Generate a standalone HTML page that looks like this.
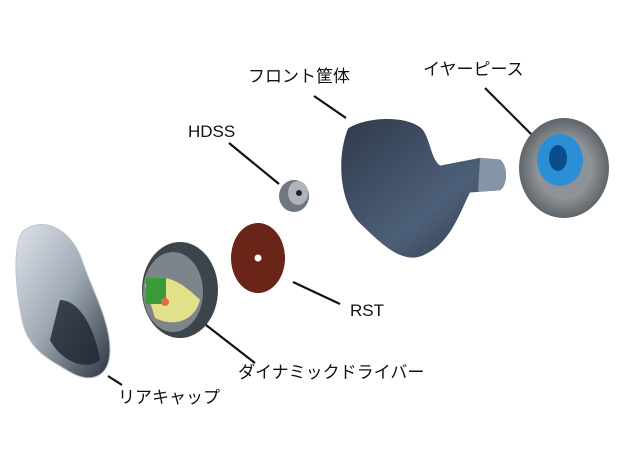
<!DOCTYPE html>
<html><head><meta charset="utf-8"><style>
html,body{margin:0;padding:0;background:#fff;}
svg{display:block}
text{font-family:"Liberation Sans","Noto Sans CJK JP",sans-serif;font-size:17px;fill:#111}
</style></head><body>
<svg width="620" height="466" viewBox="0 0 620 466" xmlns="http://www.w3.org/2000/svg">
<defs>
<linearGradient id="rc" x1="0" y1="0" x2="1" y2="1"><stop offset="0" stop-color="#dfe3ea"/><stop offset="0.5" stop-color="#9ea8b4"/><stop offset="1" stop-color="#2c3440"/></linearGradient>
<linearGradient id="sh" x1="0" y1="0" x2="1" y2="1"><stop offset="0" stop-color="#2f3a4c"/><stop offset="0.6" stop-color="#4d5f78"/><stop offset="1" stop-color="#2a3444"/></linearGradient>
<radialGradient id="et" cx="0.5" cy="0.5" r="0.5"><stop offset="0.6" stop-color="#8e9398"/><stop offset="1" stop-color="#5f6469"/></radialGradient>
</defs>
<!-- rear cap -->
<path d="M22,232 C40,216 70,226 82,260 C92,290 110,320 110,350 C110,378 90,384 70,372 C50,360 28,350 22,320 C16,290 12,250 22,232Z" fill="url(#rc)" stroke="#bfc6cf"/>
<path d="M60,300 C80,300 95,330 100,360 C85,372 60,360 50,340Z" fill="#1e252f" opacity="0.8"/>
<!-- driver -->
<ellipse cx="180" cy="290" rx="38" ry="48" fill="#3c444c"/>
<ellipse cx="173" cy="292" rx="30" ry="40" fill="#7d858a"/>
<path d="M145,285 C160,270 180,280 200,300 C195,320 175,328 155,318Z" fill="#e3e08a"/>
<rect x="146" y="278" width="20" height="26" fill="#3a9a3a"/>
<circle cx="165" cy="302" r="4" fill="#e86a4a"/>
<!-- RST -->
<ellipse cx="258" cy="258" rx="27" ry="35" fill="#6b2418"/>
<circle cx="258" cy="258" r="3.5" fill="#fff"/>
<!-- HDSS -->
<ellipse cx="294" cy="196" rx="15" ry="16" fill="#6f7880"/>
<ellipse cx="298" cy="193" rx="10" ry="12" fill="#aeb4ba"/>
<circle cx="299" cy="193" r="3" fill="#222"/>
<!-- front shell -->
<g transform="translate(0,27) scale(1,0.77)">
<path d="M348,132 C360,120 400,112 420,130 C430,140 430,170 440,180 L480,170 L500,172 C508,180 508,205 500,212 L470,215 C460,240 450,285 420,298 C400,306 380,280 360,255 C340,230 336,170 348,132Z" fill="url(#sh)"/>
<path d="M480,170 L500,172 C508,180 508,205 500,212 L478,214Z" fill="#8595a6"/>
</g>
<!-- eartip -->
<ellipse cx="564" cy="168" rx="45" ry="50" fill="url(#et)"/>
<ellipse cx="560" cy="160" rx="23" ry="26" fill="#2c8fd6"/>
<ellipse cx="558" cy="158" rx="9" ry="13" fill="#0b4d8a"/>
<!-- lines -->
<g stroke="#111" stroke-width="2.2">
<line x1="314" y1="96" x2="346" y2="118"/>
<line x1="485" y1="88" x2="531" y2="134"/>
<line x1="229" y1="143" x2="279" y2="184"/>
<line x1="293" y1="282" x2="340" y2="304"/>
<line x1="206" y1="325" x2="255" y2="363"/>
<line x1="108" y1="376" x2="122" y2="385"/>
</g>
<text x="248" y="82">フロント筐体</text>
<text x="423" y="75">イヤーピース</text>
<text x="188" y="137">HDSS</text>
<text x="350" y="316">RST</text>
<text x="238" y="378">ダイナミックドライバー</text>
<text x="118" y="403">リアキャップ</text>
</svg>
</body></html>
